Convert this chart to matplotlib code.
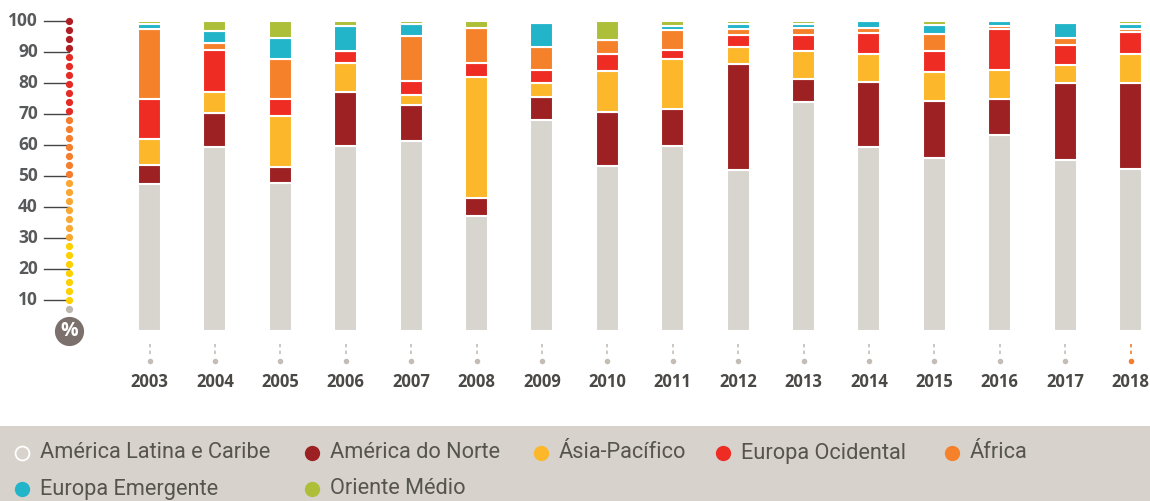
import numpy as np
import matplotlib
matplotlib.use('Agg')
from matplotlib import pyplot as plt

# dados (% por região, de baixo para cima)
years = ['2003', '2004', '2005', '2006', '2007', '2008', '2009', '2010',
         '2011', '2012', '2013', '2014', '2015', '2016', '2017', '2018']
america_latina = [47.4, 59.5, 47.7, 59.7, 61.3, 37.1, 68.1, 53.2, 59.7, 51.9, 73.9, 59.5, 55.8, 63.1, 55.2, 52.3]
america_norte = [6.1, 10.8, 5.2, 17.4, 11.6, 5.8, 7.4, 17.4, 11.9, 34.2, 7.4, 20.8, 18.4, 11.7, 24.8, 27.7]
asia_pacifico = [8.3, 6.8, 16.5, 9.4, 3.2, 39.0, 4.5, 13.3, 16.1, 5.5, 9.0, 8.9, 9.2, 9.4, 5.8, 9.2]
europa_ocidental = [13.0, 13.5, 5.6, 3.8, 4.4, 4.6, 4.2, 5.6, 2.9, 3.9, 5.2, 6.9, 6.9, 13.2, 6.6, 7.3]
africa = [22.6, 2.3, 12.7, 0.0, 14.7, 11.1, 7.4, 4.4, 6.5, 1.8, 2.2, 1.6, 5.5, 1.0, 2.1, 0.9]
europa_emergente = [1.6, 4.0, 6.8, 8.1, 3.8, 0.0, 7.6, 0.0, 1.3, 1.7, 1.3, 2.3, 2.9, 1.6, 4.7, 1.6]
oriente_medio = [1.0, 3.1, 5.5, 1.6, 1.0, 2.4, 0.8, 6.1, 1.6, 1.0, 1.0, 0.0, 1.3, 0.0, 0.8, 1.0]

series = [america_latina, america_norte, asia_pacifico, europa_ocidental,
          africa, europa_emergente, oriente_medio]
labels = ['América Latina e Caribe', 'América do Norte', 'Ásia-Pacífico',
          'Europa Ocidental', 'África', 'Europa Emergente', 'Oriente Médio']
colors = ['#d8d4ce', '#9d2123', '#fcb72a', '#ef2c24', '#f5812a', '#22b4c9', '#adbf38']

W, H = 1150, 501
BG_LEG = '#d7d2cc'
TXT = '#55544f'


# conversão de pixels para coordenadas dos eixos (layout)
def px_x(x):
    return (x - 149.5) / 65.4


def px_y(y):
    return (331 - y) / 3.1


fig = plt.figure(figsize=(W / 100, H / 100), dpi=100)
ax = fig.add_axes([0, 0, 1, 1])
ax.set_xlim(px_x(0), px_x(W))
ax.set_ylim(px_y(H), px_y(0))
ax.axis('off')

# barras empilhadas
x = np.arange(len(years))
bottom = np.zeros(len(years))
for vals, col in zip(series, colors):
    ax.bar(x, vals, bottom=bottom, width=23 / 65.4, color=col,
           edgecolor='white', linewidth=1.5, zorder=2)
    bottom += np.array(vals)

# escala vertical com pontos
ticks = np.arange(10, 101, 10)
for t in ticks:
    ax.plot([px_x(44), px_x(69)], [t, t], color='#444444', lw=1, zorder=1)
    ax.text(px_x(38), t, str(t), ha='right', va='center', fontsize=12.5,
            fontweight='bold', family='Open Sans', color='#58595b')

dot_vals = 100 - np.arange(32) * 90 / 31
for v in dot_vals:
    if v > 89.5:
        c = '#b01e24'
    elif v > 70:
        c = '#e52b25'
    elif v > 49:
        c = '#f47d2e'
    elif v > 29:
        c = '#f8a832'
    else:
        c = '#fdd000'
    ax.plot(px_x(69), v, 'o', ms=5.2, color=c, mec='none', zorder=3)
ax.plot(px_x(69), 100 - 32 * 90 / 31, 'o', ms=5.2, color='#bdb6ae', mec='none', zorder=3)

ax.plot(px_x(69), px_y(331), 'o', ms=21, color='#7b706b', mec='none', zorder=3)
ax.text(px_x(69), px_y(331), '%', ha='center', va='center', fontsize=14,
        fontweight='bold', family='Open Sans', color='white', zorder=4)

# rótulos dos anos
for i, yr in enumerate(years):
    tc = '#f47d2e' if i == len(years) - 1 else '#c4bdb6'
    ax.plot([i, i], [px_y(344), px_y(357)], color=tc, lw=1.2, ls=(0, (2, 2)))
    ax.plot(i, px_y(361), 'o', ms=4, color=tc, mec='none')
    ax.text(i, px_y(382), yr, ha='center', va='center', fontsize=12,
            fontweight='bold', family='Open Sans', color='#4a4945')

# legenda
ax.axhspan(px_y(H), px_y(426), color=BG_LEG, zorder=0, lw=0)
leg_pos = [(22, 453), (312, 453), (541, 453), (723, 453), (952, 453),
           (22, 489), (312, 489)]

# ajustar o tamanho da fonte para a largura do texto de referência (~230 px)
leg_font = dict(family='Roboto', stretch='condensed', color=TXT)
probe = ax.text(0, 0, labels[0], fontsize=16, **leg_font)
renderer = fig.canvas.get_renderer()
leg_size = 16 * 230 / probe.get_window_extent(renderer).width
probe.remove()

for lab, col, (lx, ly) in zip(labels, colors, leg_pos):
    if lab == labels[0]:
        ax.plot(px_x(lx), px_y(ly), 'o', ms=10, color=BG_LEG, mec='white', mew=1.3)
    else:
        ax.plot(px_x(lx), px_y(ly), 'o', ms=11, color=col, mec='none')
    ax.text(px_x(lx + 18), px_y(ly), lab, ha='left', va='center',
            fontsize=leg_size, **leg_font)

fig.savefig('out.png', dpi=100)
